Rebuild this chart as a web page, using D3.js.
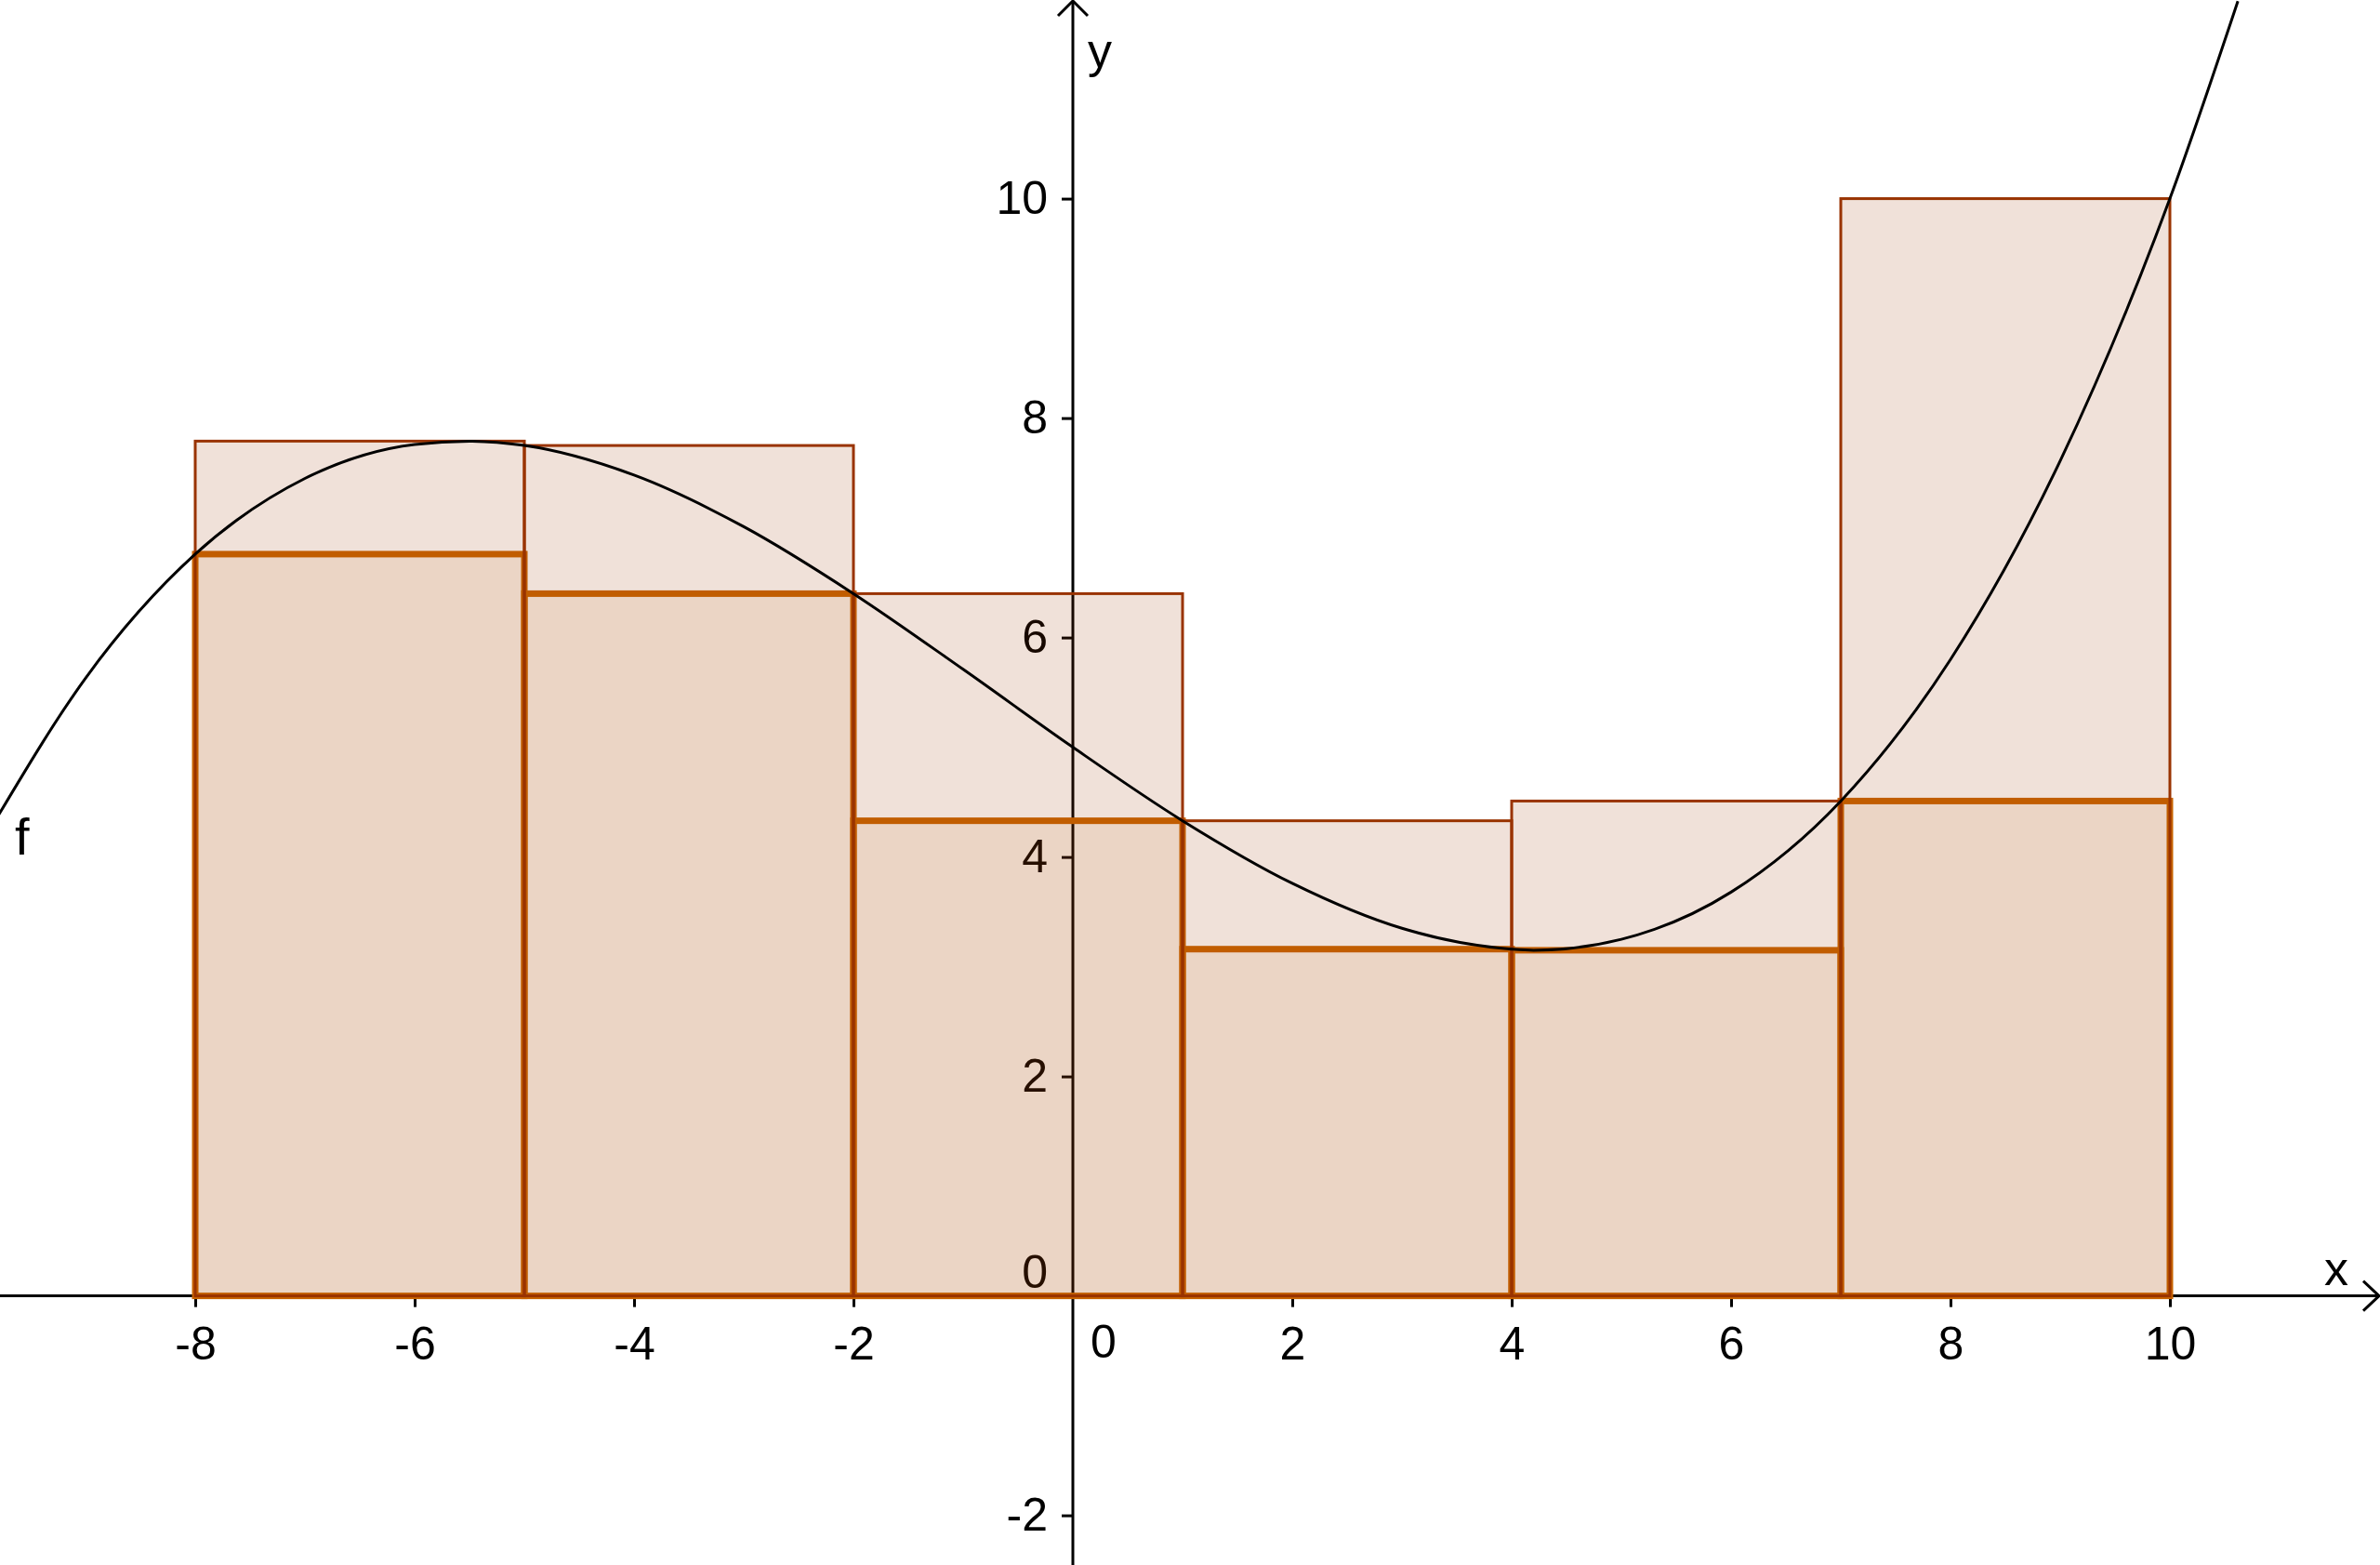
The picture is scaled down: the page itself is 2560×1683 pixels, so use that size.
<!DOCTYPE html>
<html>
<head>
<meta charset="utf-8">
<script src="https://cdn.jsdelivr.net/npm/d3@7"></script>
<style>
  body { margin: 0; background: #fff; }
  svg { display: block; font-family: "Liberation Sans", Arial, sans-serif; }
</style>
</head>
<body>
<svg id="chart"></svg>
<script>
// interval edges and the upper / lower sums
const edges = [-8, -5, -2, 1, 4, 7, 10];
const upperSums = [7.79, 7.75, 6.4, 4.33, 4.51, 10];
const lowerSums = [6.76, 6.4, 4.33, 3.16, 3.15, 4.51];

// points of the curve f
const curveX = [-9.8, -9, -8, -7, -6, -5.5, -5, -4, -3, -2, -1, 0, 1, 2, 3, 4, 4.2, 5, 6, 7, 8, 9, 10, 10.62];
const curveY = [4.37, 5.63, 6.76, 7.45, 7.76, 7.79, 7.75, 7.48, 7.01, 6.4, 5.71, 5, 4.33, 3.76, 3.35, 3.16, 3.15, 3.25, 3.68, 4.51, 5.8, 7.61, 10, 11.8];

// tick labels
const xTicks = [-8, -6, -4, -2, 2, 4, 6, 8, 10];
const yTicks = [-2, 2, 4, 6, 8, 10];

const width = 2560, height = 1683;
const unit = 118;
const originX = 1154, originY = 1393.6;

const svg = d3.select("#chart")
    .attr("width", width)
    .attr("height", height);

// scales: same pixels per unit on both axes
const x = d3.scaleLinear()
    .domain([-originX / unit, (width - originX) / unit])
    .range([0, width]);
const y = d3.scaleLinear()
    .domain([(originY - height) / unit, originY / unit])
    .range([height, 0]);

const fontSize = 50;

// axes first, the shaded rectangles lie on top of them
const axes = svg.append("g");

const xAxis = axes.append("g")
    .attr("transform", `translate(0,${y(0)})`)
    .call(d3.axisBottom(x).tickValues(xTicks).tickFormat(d => String(d))
        .tickSize(12).tickSizeOuter(0).tickPadding(21));
const yAxis = axes.append("g")
    .attr("transform", `translate(${x(0)},0)`)
    .call(d3.axisLeft(y).tickValues(yTicks).tickFormat(d => String(d))
        .tickSize(12).tickSizeOuter(0).tickPadding(15));

[xAxis, yAxis].forEach(g => {
    g.select(".domain").remove();
    g.selectAll("line").attr("stroke", "#000").attr("stroke-width", 3);
    g.selectAll("text").attr("fill", "#000").style("font-size", fontSize + "px");
});

// axis lines with open arrow heads
axes.append("line")
    .attr("x1", 0).attr("x2", width - 1)
    .attr("y1", y(0)).attr("y2", y(0))
    .attr("stroke", "#000").attr("stroke-width", 3);
axes.append("path")
    .attr("d", `M${width - 18},${y(0) - 16}L${width - 1},${y(0)}L${width - 18},${y(0) + 16}`)
    .attr("fill", "none").attr("stroke", "#000").attr("stroke-width", 3);
axes.append("line")
    .attr("x1", x(0)).attr("x2", x(0))
    .attr("y1", 1).attr("y2", height)
    .attr("stroke", "#000").attr("stroke-width", 3);
axes.append("path")
    .attr("d", `M${x(0) - 16},${17}L${x(0)},${1}L${x(0) + 16},${17}`)
    .attr("fill", "none").attr("stroke", "#000").attr("stroke-width", 3);

// origin labels and axis names
axes.append("text")
    .attr("x", x(0) + 33).attr("y", y(0) + 66)
    .attr("text-anchor", "middle")
    .style("font-size", fontSize + "px")
    .text("0");
axes.append("text")
    .attr("x", x(0) - 27).attr("y", y(0) - 9)
    .attr("text-anchor", "end")
    .style("font-size", fontSize + "px")
    .text("0");
axes.append("text")
    .attr("x", 2500).attr("y", y(0) - 12)
    .style("font-size", "52px")
    .text("x");
axes.append("text")
    .attr("x", x(0) + 16).attr("y", 72)
    .style("font-size", "52px")
    .text("y");

const bars = d3.range(upperSums.length).map(i => ({
    x0: edges[i], x1: edges[i + 1], up: upperSums[i], low: lowerSums[i]
}));

// lower sum
svg.append("g")
    .selectAll("rect")
    .data(bars)
    .join("rect")
    .attr("x", d => x(d.x0))
    .attr("y", d => y(d.low))
    .attr("width", d => x(d.x1) - x(d.x0))
    .attr("height", d => y(0) - y(d.low))
    .attr("fill", "#cc6600")
    .attr("fill-opacity", 0.09)
    .attr("stroke", "#c86400")
    .attr("stroke-width", 7);

// upper sum
svg.append("g")
    .selectAll("rect")
    .data(bars)
    .join("rect")
    .attr("x", d => x(d.x0))
    .attr("y", d => y(d.up))
    .attr("width", d => x(d.x1) - x(d.x0))
    .attr("height", d => y(0) - y(d.up))
    .attr("fill", "#993300")
    .attr("fill-opacity", 0.15)
    .attr("stroke", "#993300")
    .attr("stroke-width", 3);

// the function f
const line = d3.line()
    .x(d => x(d[0]))
    .y(d => y(d[1]))
    .curve(d3.curveMonotoneX);

svg.append("path")
    .datum(d3.zip(curveX, curveY))
    .attr("d", line)
    .attr("fill", "none")
    .attr("stroke", "#000")
    .attr("stroke-width", 3);

svg.append("text")
    .attr("x", 16).attr("y", 919)
    .style("font-size", "56px")
    .text("f");
</script>
</body>
</html>
